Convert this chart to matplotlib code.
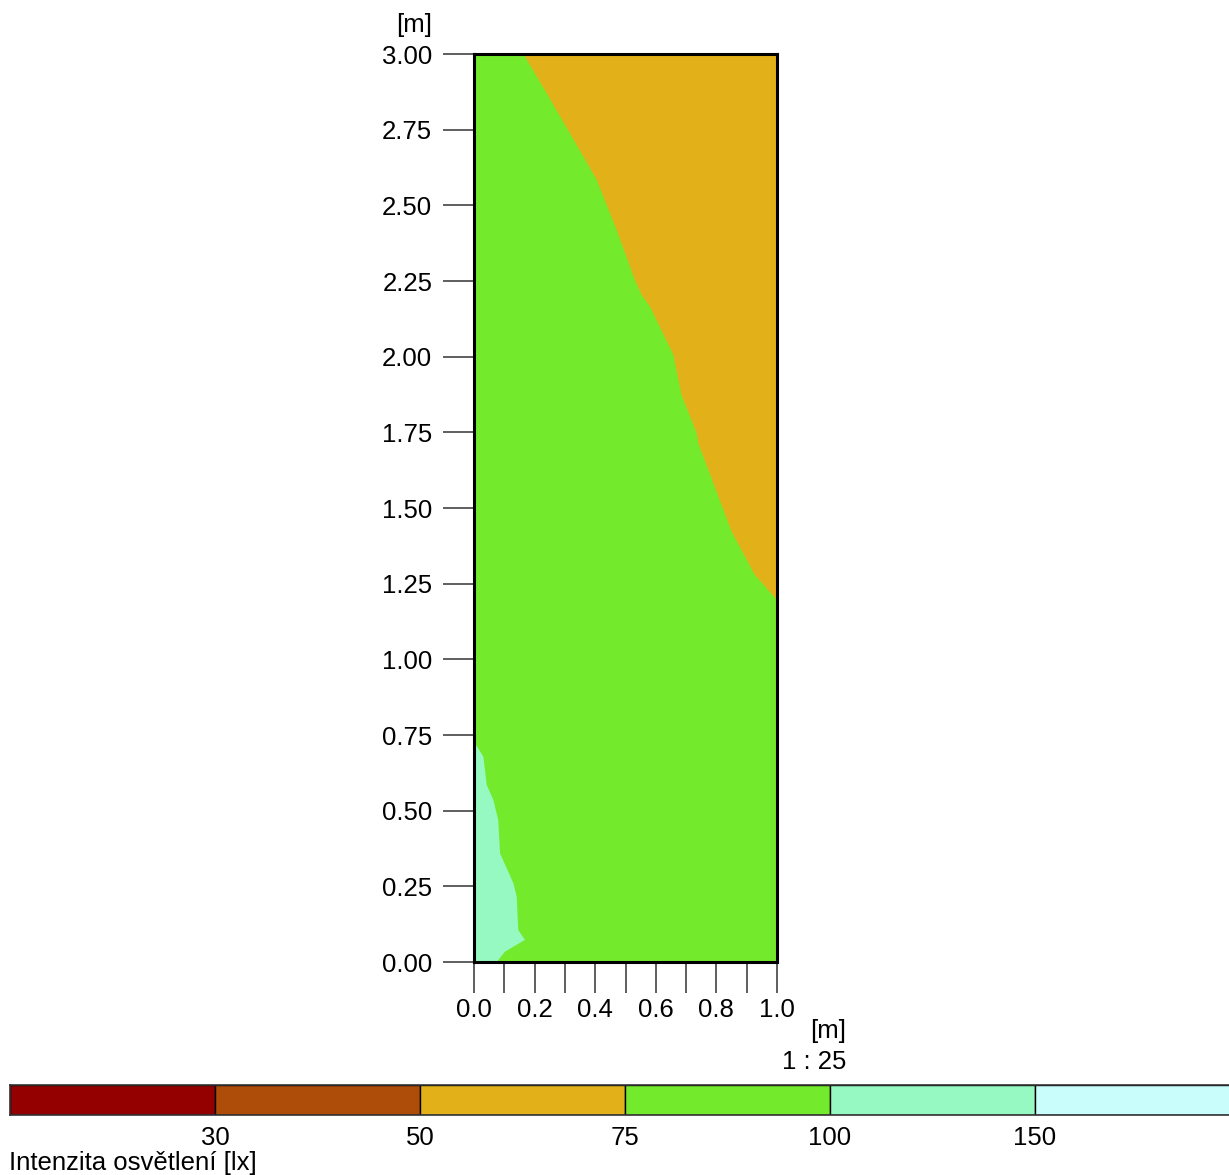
import matplotlib
matplotlib.use("Agg")
import matplotlib.pyplot as plt
import numpy as np

plt.rcParams['font.family'] = ['Liberation Sans', 'DejaVu Sans']

# --- data -------------------------------------------------------------
# 75 lx contour (green / orange boundary), x [m], y [m]
c75_x = [0.163, 0.240, 0.361, 0.405, 0.471, 0.531, 0.553, 0.581, 0.658,
         0.685, 0.735, 0.740, 0.790, 0.850, 0.927, 1.000]
c75_y = [3.000, 2.870, 2.661, 2.584, 2.418, 2.253, 2.204, 2.165, 2.006,
         1.873, 1.747, 1.714, 1.582, 1.422, 1.279, 1.196]
# 100 lx contour (green / light-green boundary)
c100_x = [0.000, 0.031, 0.042, 0.064, 0.080, 0.086, 0.130, 0.141, 0.146,
          0.168, 0.102, 0.075]
c100_y = [0.728, 0.678, 0.585, 0.535, 0.469, 0.359, 0.260, 0.216, 0.106,
          0.073, 0.034, 0.000]

levels = ["30", "50", "75", "100", "150"]
colors = ["#940000", "#AE4D0A", "#E2B119", "#74EA2D", "#96F9C2", "#C9FDFC"]
legend_title = "Intenzita osvětlení [lx]"
x_ticks = [0.0, 0.1, 0.2, 0.3, 0.4, 0.5, 0.6, 0.7, 0.8, 0.9, 1.0]
y_ticks = [0.0, 0.25, 0.5, 0.75, 1.0, 1.25, 1.5, 1.75, 2.0, 2.25, 2.5, 2.75, 3.0]

W, H = 1229, 1175
fig = plt.figure(figsize=(W / 100, H / 100), dpi=100)

def fx(px):
    return px / W

def fy(py):
    return 1 - py / H

ax = fig.add_axes([fx(474), fy(962), (777 - 474) / W, (962 - 54) / H])
ax.set_xlim(0, 1)
ax.set_ylim(0, 3)

# background: 75-100 lx region
ax.fill([0, 1, 1, 0], [0, 0, 3, 3], color=colors[3], lw=0)
# 50-75 lx region (upper right)
ax.fill(c75_x + [1.0], c75_y + [3.0], color=colors[2], lw=0)
# 100-150 lx region (lower left)
ax.fill(c100_x + [0.0], c100_y + [0.0], color=colors[4], lw=0)

for s in ax.spines.values():
    s.set_linewidth(2.2)
    s.set_color('black')
    s.set_zorder(5)

ax.set_yticks(y_ticks)
ax.set_yticklabels([f"{v:.2f}" for v in y_ticks])
ax.set_xticks(x_ticks)
ax.set_xticklabels([f"{v:.1f}" if i % 2 == 0 else "" for i, v in enumerate(x_ticks)])
ax.tick_params(axis='both', direction='out', length=22, width=1.1,
               color='#333333', labelsize=18.5)
ax.tick_params(axis='y', pad=8)
ax.tick_params(axis='x', pad=4)

fig.text(fx(414), fy(25), "[m]", ha='center', va='center', fontsize=18.5)
fig.text(fx(846), fy(1031), "[m]", ha='right', va='center', fontsize=18.5)
fig.text(fx(846), fy(1062), "1 : 25", ha='right', va='center', fontsize=18.5)

# --- legend bar -------------------------------------------------------
seg = 205
cax = fig.add_axes([fx(10), fy(1115), 6 * seg / W, 30 / H])
for i, c in enumerate(colors):
    cax.barh(0, 1, left=i, height=1, color=c, edgecolor='black', linewidth=1.0)
cax.set_xlim(0, 6)
cax.set_ylim(-0.5, 0.5)
cax.set_yticks([])
cax.set_xticks(range(1, 6))
cax.set_xticklabels(levels)
cax.tick_params(axis='x', length=0, labelsize=18.5, pad=8)
for s in cax.spines.values():
    s.set_linewidth(1.2)
    s.set_color('#333333')

fig.text(fx(9), fy(1163), legend_title, ha='left', va='center', fontsize=18.5)

fig.savefig("out.png", dpi=100)
